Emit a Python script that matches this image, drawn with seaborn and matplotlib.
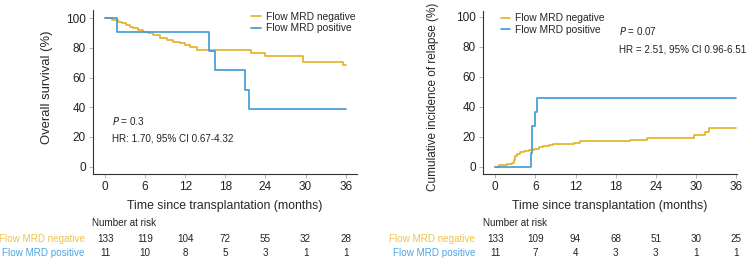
import matplotlib
matplotlib.use('Agg')

import matplotlib.pyplot as plt
import matplotlib.transforms as mtransforms
import numpy as np
import pandas as pd
import seaborn as sns

# overall survival (%), step points
os_neg_t = [0, 1.0, 1.9, 2.6, 3.2, 3.7, 4.2, 5.0, 5.7, 6.5, 7.2, 8.2, 9.2, 10.2, 11.2, 12.0, 12.7, 13.7, 21.9, 23.9, 29.6, 35.6, 36]
os_neg_v = [100, 99.0, 97.7, 96.6, 95.5, 94.4, 93.2, 92.0, 91.0, 89.8, 88.7, 87.0, 85.4, 84.2, 83.2, 82.0, 80.9, 78.6, 76.8, 74.9, 70.3, 68.5, 68.5]
os_pos_t = [0, 1.8, 15.5, 16.4, 20.9, 21.6, 36]
os_pos_v = [100, 90.9, 77.9, 64.9, 51.9, 39.0, 39.0]

# cumulative incidence of relapse (%)
cir_neg_t = [0, 0.5, 1.2, 1.8, 2.5, 2.8, 3.0, 3.3, 3.7, 4.3, 5.0, 5.8, 6.5, 7.2, 8.0, 8.7, 11.7, 12.7, 20.2, 22.7, 29.7, 31.3, 31.9, 36]
cir_neg_v = [0, 0.7, 1.0, 1.5, 2.2, 4.5, 6.7, 8.5, 10.0, 10.6, 11.1, 12.0, 13.3, 13.9, 14.4, 14.9, 15.6, 16.7, 17.8, 18.9, 21.1, 23.3, 25.6, 25.6]
cir_pos_t = [0, 5.3, 5.5, 5.9, 6.3, 36]
cir_pos_v = [0, 9.1, 27.3, 36.4, 45.5, 45.5]

risk_times = [0, 6, 12, 18, 24, 30, 36]
os_risk_neg = [133, 119, 104, 72, 55, 32, 28]
os_risk_pos = [11, 10, 8, 5, 3, 1, 1]
cir_risk_neg = [133, 109, 94, 68, 51, 30, 25]
cir_risk_pos = [11, 7, 4, 3, 3, 1, 1]

groups = ['Flow MRD negative', 'Flow MRD positive']
gold = '#E3B21E'
blue = '#3C9AD6'
palette = {groups[0]: gold, groups[1]: blue}
label_colors = ['#F0C24A', '#4DA6E0']

small = 7.1


def make_df(t_neg, v_neg, t_pos, v_pos):
    return pd.concat([
        pd.DataFrame({'time': t_neg, 'value': v_neg, 'group': groups[0]}),
        pd.DataFrame({'time': t_pos, 'value': v_pos, 'group': groups[1]}),
    ])


def style_axis(ax, xlim, ylim, ylabel, ylabel_size, label_xy):
    ax.set_xlim(*xlim)
    ax.set_ylim(*ylim)
    ax.set_xticks(risk_times)
    ax.set_yticks([0, 20, 40, 60, 80, 100])
    ax.set_xlabel('Time since transplantation (months)', fontsize=8.8, labelpad=5)
    ax.set_ylabel(ylabel, fontsize=ylabel_size)
    ax.yaxis.set_label_coords(*label_xy)
    ax.tick_params(axis='both', labelsize=8.5, length=3, width=0.6, color='#aaaaaa', labelcolor='#222222', pad=2)
    for s in ['top', 'right']:
        ax.spines[s].set_visible(False)
    for s in ['left', 'bottom']:
        ax.spines[s].set_color('#333333')
        ax.spines[s].set_linewidth(0.8)


def risk_table(fig, ax, neg, pos):
    trans = mtransforms.blended_transform_factory(ax.transData, fig.transFigure)
    ax.text(-1.9, 0.142, 'Number at risk', transform=trans, fontsize=small, ha='left', va='center', color='#222222')
    ax.text(-3.0, 0.081, groups[0], transform=trans, fontsize=small, ha='right', va='center', color=label_colors[0])
    ax.text(-3.0, 0.027, groups[1], transform=trans, fontsize=small, ha='right', va='center', color=label_colors[1])
    for t, a, b in zip(risk_times, neg, pos):
        ax.text(t, 0.081, str(a), transform=trans, fontsize=small, ha='center', va='center', color='#222222')
        ax.text(t, 0.027, str(b), transform=trans, fontsize=small, ha='center', va='center', color='#222222')


def main():
    sns.set_style('ticks')
    plt.rcParams['font.family'] = ['Liberation Sans', 'DejaVu Sans']

    fig = plt.figure(figsize=(7.48, 2.6), dpi=100)
    ax1 = fig.add_axes([93 / 748, 86 / 260, 264 / 748, 164 / 260])
    ax2 = fig.add_axes([483 / 748, 86 / 260, 254 / 748, 163 / 260])

    # overall survival
    df_os = make_df(os_neg_t, os_neg_v, os_pos_t, os_pos_v)
    sns.lineplot(data=df_os, x='time', y='value', hue='group', palette=palette,
                 estimator=None, drawstyle='steps-post', linewidth=1.2, ax=ax1)
    style_axis(ax1, (-1.8, 37.7), (-5, 105.6), 'Overall survival (%)', 9.4, (-0.152, 0.53))
    ax1.legend(frameon=False, loc='upper left', bbox_to_anchor=(0.6, 0.99), fontsize=small + 0.3,
               handlelength=0.9, handletextpad=0.5, labelspacing=0.15, borderpad=0, borderaxespad=0)
    ax1.text(1, 31, '$\\it{P}$ = 0.3', fontsize=small, va='center', color='#222222')
    ax1.text(1, 19, 'HR: 1.70, 95% CI 0.67-4.32', fontsize=small, va='center', color='#222222')
    risk_table(fig, ax1, os_risk_neg, os_risk_pos)

    # cumulative incidence of relapse
    df_cir = make_df(cir_neg_t, cir_neg_v, cir_pos_t, cir_pos_v)
    sns.lineplot(data=df_cir, x='time', y='value', hue='group', palette=palette,
                 estimator=None, drawstyle='steps-post', linewidth=1.2, ax=ax2)
    style_axis(ax2, (-1.84, 36.15), (-5, 103.8), 'Cumulative incidence of relapse (%)', 8.5, (-0.173, 0.475))
    ax2.legend(frameon=False, loc='upper left', bbox_to_anchor=(0.07, 0.985), fontsize=small + 0.3,
               handlelength=0.9, handletextpad=0.5, labelspacing=0.15, borderpad=0, borderaxespad=0)
    ax2.text(18.5, 90.5, '$\\it{P}$ = 0.07', fontsize=small, va='center', color='#222222')
    ax2.text(18.5, 78, 'HR = 2.51, 95% CI 0.96-6.51', fontsize=small, va='center', color='#222222')
    risk_table(fig, ax2, cir_risk_neg, cir_risk_pos)

    fig.savefig('out.png', dpi=100)
    plt.close(fig)


if __name__ == '__main__':
    main()
